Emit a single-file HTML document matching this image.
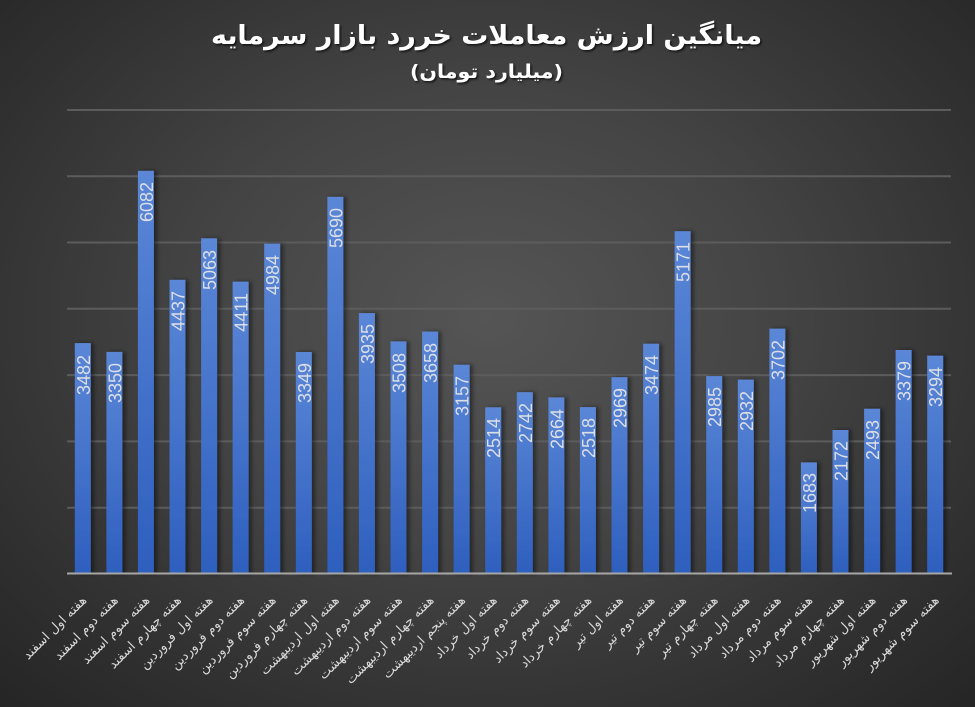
<!DOCTYPE html>
<html><head><meta charset="utf-8">
<style>
html,body{margin:0;padding:0;}
body{width:975px;height:707px;overflow:hidden;background:radial-gradient(ellipse 75% 80% at 50% 45%,#555 0%,#444 40%,#303030 75%,#232323 100%);}
svg{display:block;}
.v{font-family:"Liberation Sans",sans-serif;font-size:18px;fill:#dcdfe6;}
.l{font-family:"DejaVu Sans",sans-serif;font-size:13px;fill:#d9d9d9;}
.t{font-family:"DejaVu Sans",sans-serif;font-weight:bold;fill:#fff;}
</style></head><body>
<svg width="975" height="707" viewBox="0 0 975 707" xmlns="http://www.w3.org/2000/svg">
<defs>
<linearGradient id="bg" x1="0" y1="0" x2="0" y2="1">
<stop offset="0" stop-color="#5b87d7"/><stop offset="1" stop-color="#2e5fbe"/>
</linearGradient>
<filter id="sh" x="-50%" y="-10%" width="200%" height="120%">
<feDropShadow dx="3" dy="0" stdDeviation="2" flood-color="#000" flood-opacity="0.45"/>
</filter>
<filter id="ts" x="-5%" y="-20%" width="110%" height="150%">
<feDropShadow dx="1.5" dy="1.5" stdDeviation="1" flood-color="#000" flood-opacity="0.7"/>
</filter>
</defs>
<g stroke="#5c5c5c" stroke-width="2">
<line x1="67" y1="110" x2="951" y2="110"/>
<line x1="67" y1="176.2" x2="951" y2="176.2"/>
<line x1="67" y1="242.5" x2="951" y2="242.5"/>
<line x1="67" y1="308.8" x2="951" y2="308.8"/>
<line x1="67" y1="375.1" x2="951" y2="375.1"/>
<line x1="67" y1="441.4" x2="951" y2="441.4"/>
<line x1="67" y1="507.7" x2="951" y2="507.7"/>
</g>
<text class="t" x="486.5" y="44" text-anchor="middle" font-size="26" textLength="551" lengthAdjust="spacingAndGlyphs" filter="url(#ts)">میانگین ارزش معاملات خررد بازار سرمایه</text>
<text class="t" x="486.5" y="78" text-anchor="middle" font-size="19" textLength="153" lengthAdjust="spacingAndGlyphs" filter="url(#ts)">(میلیارد تومان)</text>
<g fill="url(#bg)" filter="url(#sh)">
<rect x="74.8" y="343.1" width="16" height="230.9"/>
<rect x="106.4" y="351.9" width="16" height="222.1"/>
<rect x="137.9" y="170.8" width="16" height="403.2"/>
<rect x="169.5" y="279.8" width="16" height="294.2"/>
<rect x="201.1" y="238.3" width="16" height="335.7"/>
<rect x="232.6" y="281.6" width="16" height="292.4"/>
<rect x="264.2" y="243.6" width="16" height="330.4"/>
<rect x="295.8" y="352.0" width="16" height="222.0"/>
<rect x="327.4" y="196.8" width="16" height="377.2"/>
<rect x="358.9" y="313.1" width="16" height="260.9"/>
<rect x="390.5" y="341.4" width="16" height="232.6"/>
<rect x="422.1" y="331.5" width="16" height="242.5"/>
<rect x="453.6" y="364.7" width="16" height="209.3"/>
<rect x="485.2" y="407.3" width="16" height="166.7"/>
<rect x="516.8" y="392.2" width="16" height="181.8"/>
<rect x="548.4" y="397.4" width="16" height="176.6"/>
<rect x="579.9" y="407.1" width="16" height="166.9"/>
<rect x="611.5" y="377.2" width="16" height="196.8"/>
<rect x="643.1" y="343.7" width="16" height="230.3"/>
<rect x="674.6" y="231.2" width="16" height="342.8"/>
<rect x="706.2" y="376.1" width="16" height="197.9"/>
<rect x="737.8" y="379.6" width="16" height="194.4"/>
<rect x="769.4" y="328.6" width="16" height="245.4"/>
<rect x="800.9" y="462.4" width="16" height="111.6"/>
<rect x="832.5" y="430.0" width="16" height="144.0"/>
<rect x="864.1" y="408.7" width="16" height="165.3"/>
<rect x="895.6" y="350.0" width="16" height="224.0"/>
<rect x="927.2" y="355.6" width="16" height="218.4"/>
</g>
<line x1="67" y1="573.5" x2="952" y2="573.5" stroke="#a6a6a6" stroke-width="2"/>
<g class="v" text-anchor="end">
<text transform="translate(89.8,355) rotate(-90)">3482</text>
<text transform="translate(121.4,363) rotate(-90)">3350</text>
<text transform="translate(152.9,182) rotate(-90)">6082</text>
<text transform="translate(184.5,291) rotate(-90)">4437</text>
<text transform="translate(216.1,250) rotate(-90)">5063</text>
<text transform="translate(247.6,293) rotate(-90)">4411</text>
<text transform="translate(279.2,255) rotate(-90)">4984</text>
<text transform="translate(310.8,363) rotate(-90)">3349</text>
<text transform="translate(342.4,208) rotate(-90)">5690</text>
<text transform="translate(373.9,324) rotate(-90)">3935</text>
<text transform="translate(405.5,353) rotate(-90)">3508</text>
<text transform="translate(437.1,343) rotate(-90)">3658</text>
<text transform="translate(468.6,376) rotate(-90)">3157</text>
<text transform="translate(500.2,418) rotate(-90)">2514</text>
<text transform="translate(531.8,403) rotate(-90)">2742</text>
<text transform="translate(563.4,409) rotate(-90)">2664</text>
<text transform="translate(594.9,418) rotate(-90)">2518</text>
<text transform="translate(626.5,388) rotate(-90)">2969</text>
<text transform="translate(658.1,355) rotate(-90)">3474</text>
<text transform="translate(689.6,242) rotate(-90)">5171</text>
<text transform="translate(721.2,387) rotate(-90)">2985</text>
<text transform="translate(752.8,391) rotate(-90)">2932</text>
<text transform="translate(784.4,340) rotate(-90)">3702</text>
<text transform="translate(815.9,473) rotate(-90)">1683</text>
<text transform="translate(847.5,441) rotate(-90)">2172</text>
<text transform="translate(879.1,420) rotate(-90)">2493</text>
<text transform="translate(910.6,361) rotate(-90)">3379</text>
<text transform="translate(942.2,367) rotate(-90)">3294</text>
</g>
<g class="l" text-anchor="end">
<text transform="translate(87.3,601) rotate(-45)">هفته اول اسفند</text>
<text transform="translate(118.9,601) rotate(-45)">هفته دوم اسفند</text>
<text transform="translate(150.4,601) rotate(-45)">هفته سوم اسفند</text>
<text transform="translate(182.0,601) rotate(-45)">هفته چهارم اسفند</text>
<text transform="translate(213.6,601) rotate(-45)">هفته اول فروردین</text>
<text transform="translate(245.1,601) rotate(-45)">هفته دوم فروردین</text>
<text transform="translate(276.7,601) rotate(-45)">هفته سوم فروردین</text>
<text transform="translate(308.3,601) rotate(-45)">هفته چهارم فروردین</text>
<text transform="translate(339.9,601) rotate(-45)">هفته اول اردیبهشت</text>
<text transform="translate(371.4,601) rotate(-45)">هفته دوم اردیبهشت</text>
<text transform="translate(403.0,601) rotate(-45)">هفته سوم اردیبهشت</text>
<text transform="translate(434.6,601) rotate(-45)">هفته چهارم اردیبهشت</text>
<text transform="translate(466.1,601) rotate(-45)">هفته پنجم اردیبهشت</text>
<text transform="translate(497.7,601) rotate(-45)">هفته اول خرداد</text>
<text transform="translate(529.3,601) rotate(-45)">هفته دوم خرداد</text>
<text transform="translate(560.9,601) rotate(-45)">هفته سوم خرداد</text>
<text transform="translate(592.4,601) rotate(-45)">هفته چهارم خرداد</text>
<text transform="translate(624.0,601) rotate(-45)">هفته اول تیر</text>
<text transform="translate(655.6,601) rotate(-45)">هفته دوم تیر</text>
<text transform="translate(687.1,601) rotate(-45)">هفته سوم تیر</text>
<text transform="translate(718.7,601) rotate(-45)">هفته چهارم تیر</text>
<text transform="translate(750.3,601) rotate(-45)">هفته اول مرداد</text>
<text transform="translate(781.9,601) rotate(-45)">هفته دوم مرداد</text>
<text transform="translate(813.4,601) rotate(-45)">هفته سوم مرداد</text>
<text transform="translate(845.0,601) rotate(-45)">هفته چهارم مرداد</text>
<text transform="translate(876.6,601) rotate(-45)">هفته اول شهریور</text>
<text transform="translate(908.1,601) rotate(-45)">هفته دوم شهریور</text>
<text transform="translate(939.7,601) rotate(-45)">هفته سوم شهریور</text>
</g>
</svg>
</body></html>
